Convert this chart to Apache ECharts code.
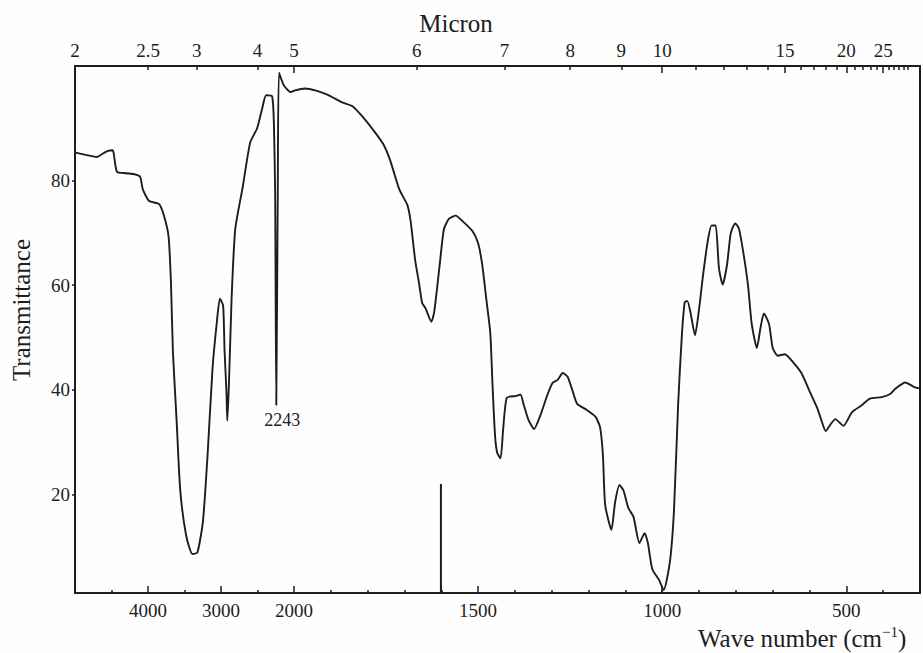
<!DOCTYPE html>
<html>
<head>
<meta charset="utf-8">
<script src="https://cdn.jsdelivr.net/npm/echarts@6/dist/echarts.min.js"></script>
<style>
  html, body { margin: 0; padding: 0; background: #fdfefd; }
  #chart { width: 923px; height: 653px; }
</style>
</head>
<body>
<div id="chart"></div>
<script>
// IR transmission spectrum, wave number (cm^-1) against % transmittance.
const wavenumber = [
  5000, 4818, 4704, 4566, 4484, 4470, 4425, 4300, 4184, 4107, 4071, 3985, 3848, 3784,
  3719, 3686, 3659, 3608, 3559, 3478, 3392, 3323, 3247, 3184, 3116, 3058, 3015, 2971,
  2951, 2925, 2914, 2892, 2855, 2805, 2703, 2600, 2505, 2432, 2382, 2300, 2275, 2258,
  2243, 2222, 2205, 2140, 2045, 2000,
  1971, 1940, 1908, 1871, 1841, 1810, 1783, 1757, 1739, 1714, 1692, 1683, 1671, 1660,
  1652, 1643, 1627, 1619, 1604, 1593, 1579, 1561, 1543, 1515, 1500, 1489, 1478, 1467,
  1461, 1454, 1448, 1439, 1432, 1422, 1398, 1385, 1376, 1363, 1348, 1331, 1312, 1298,
  1284, 1270, 1257, 1244, 1231, 1208, 1182, 1169, 1161, 1155, 1138, 1128, 1116, 1105,
  1092, 1078, 1062, 1048, 1039, 1027, 1009, 996, 979, 968, 957, 947, 939, 932,
  923, 911, 900, 889, 876, 866, 855, 846, 836, 824, 814, 802, 792, 779,
  767, 757, 743, 733, 724, 710, 700, 686, 667, 645, 622, 601, 579, 566,
  556, 543, 530, 508, 485, 459, 436, 404, 381, 367, 340, 315, 303
];
const transmittance = [
  85.4, 84.8, 84.5, 85.6, 85.8, 85.2, 81.7, 81.4, 81.2, 80.7, 78.3, 76.1, 75.5, 73.4,
  69.4, 60.7, 47.4, 34.1, 20.9, 12.2, 8.6, 8.9, 14.9, 27.5, 44.1, 52.8, 57.4, 56.1,
  47.4, 39.5, 34.1, 40.8, 57.4, 70.7, 78.7, 87.3, 90.0, 94.0, 96.3, 96.1, 90.6, 77.3,
  37.1, 78.0, 100.6, 98.2, 96.9, 97.2,
  97.6, 97.2, 96.4, 95.0, 94.2, 91.9, 89.5, 86.9, 83.9, 78.3, 75.3, 72.1, 64.8, 60.2,
  56.6, 55.6, 53.0, 55.0, 64.1, 70.7, 72.7, 73.3, 72.3, 70.3, 68.0, 64.0, 57.5, 50.9,
  41.1, 31.2, 27.9, 26.9, 32.5, 38.5, 38.8, 39.1, 37.1, 34.2, 32.5, 35.1, 39.0, 41.3,
  41.9, 43.2, 42.5, 39.9, 37.3, 36.3, 34.9, 32.9, 27.4, 18.0, 13.2, 18.5, 21.8, 20.7,
  17.4, 15.7, 10.7, 12.6, 10.7, 5.7, 3.7, 1.7, 7.2, 17.1, 36.9, 50.1, 56.7, 57.0,
  54.7, 50.4, 55.4, 62.0, 68.6, 71.4, 71.4, 63.3, 60.1, 63.9, 69.9, 71.8, 70.9, 65.9,
  59.9, 52.6, 48.0, 51.9, 54.6, 52.6, 48.0, 46.5, 46.8, 45.3, 43.2, 39.9, 36.5, 33.8,
  32.1, 33.4, 34.4, 33.1, 35.7, 37.0, 38.3, 38.6, 39.2, 40.2, 41.4, 40.5, 40.3
];

// Band marked with its wave number
const labelledBand = 2243;

// Calibration stroke of the recorder
const calibrationWave = 1601;
const calibrationTop = 22;

// Axis ticks and labels
const waveLabels = [4000, 3000, 2000, 1500, 1000, 500];
const waveMajorTicks = [4000, 3000, 2000, 1500, 1000, 500];
const waveMinorTicks = [4500, 3500, 2500, 1900, 1800, 1700, 1600, 1400, 1300, 1200, 1100,
  1000, 900, 800, 700, 600, 400];
const micronLabels = [2, 2.5, 3, 4, 5, 6, 7, 8, 9, 10, 15, 20, 25];
const micronMajorTicks = [5, 10, 15, 20, 25];
const micronMinorTicks = [2.5, 3, 4, 6, 7, 8, 9, 11, 12, 13, 14, 16, 17, 18, 19, 21, 22, 23,
  24, 26, 27, 28, 29, 30];
const transTicks = [20, 40, 60, 80];

// The recorder changes its abscissa scale at 2000 cm^-1
const SPLIT = 2000;
const WAVE_MAX = 5000;
const WAVE_MIN = 300;
const T_MIN = 1.15;
const T_MAX = 101.9;

const INK = '#1d1d1d';
const FONT = '"Liberation Serif", "Times New Roman", serif';

const pairs = wavenumber.map((w, i) => [w, transmittance[i]]);
const highPairs = pairs.filter(p => p[0] >= SPLIT);
const lowPairs = pairs.filter(p => p[0] <= SPLIT);
const bandPoint = pairs.find(p => p[0] === labelledBand);

const toWave = m => 10000 / m;
const micronText = v => String(Math.round(10000 / v * 10) / 10);
const plainText = v => String(Math.round(v));

function xAxisDef(gridIndex, min, max, position, opts) {
  return Object.assign({
    type: 'value', gridIndex, min, max, inverse: true, position,
    splitLine: { show: false },
    axisLine: { show: false },
    axisTick: { show: false },
    axisLabel: { show: false }
  }, opts);
}
const line = { show: true, lineStyle: { color: INK, width: 2 } };
const labelStyle = { show: true, color: INK, fontSize: 19, fontFamily: FONT };
const tick = (values, length) => ({
  show: true, inside: true, length, customValues: values,
  lineStyle: { color: INK, width: 1.5 }
});

const xAxes = [];
[[0, SPLIT, WAVE_MAX], [1, WAVE_MIN, SPLIT]].forEach(([g, min, max]) => {
  const keepWave = v => (g === 0 ? v >= SPLIT : v < SPLIT);
  // wave number scale along the bottom
  xAxes.push(xAxisDef(g, min, max, 'bottom', {
    axisLine: line,
    axisTick: tick(waveMajorTicks.filter(keepWave), 7),
    axisLabel: Object.assign({ customValues: waveLabels.filter(keepWave), margin: 8,
      formatter: plainText }, labelStyle)
  }));
  xAxes.push(xAxisDef(g, min, max, 'bottom', {
    axisTick: tick(waveMinorTicks.filter(keepWave), 3)
  }));
  // micron scale along the top
  const microns = arr => arr.map(toWave).filter(keepWave);
  xAxes.push(xAxisDef(g, min, max, 'top', {
    axisLine: line,
    axisTick: tick(microns(micronMinorTicks), 4),
    axisLabel: Object.assign({ customValues: microns(micronLabels), margin: 6,
      formatter: micronText }, labelStyle)
  }));
  xAxes.push(xAxisDef(g, min, max, 'top', {
    axisTick: tick(microns(micronMajorTicks), 7)
  }));
});

const option = {
  animation: false,
  backgroundColor: '#fdfefd',
  textStyle: { fontFamily: FONT },
  grid: [
    { left: 75, top: 66, width: 219, height: 527 },
    { left: 294, top: 66, width: 626, height: 527 }
  ],
  xAxis: xAxes,
  yAxis: [
    {
      type: 'value', gridIndex: 0, min: T_MIN, max: T_MAX, position: 'left',
      splitLine: { show: false },
      axisLine: line,
      axisTick: { show: true, inside: false, length: 3, customValues: transTicks,
        lineStyle: { color: INK, width: 1.5 } },
      axisLabel: Object.assign({ customValues: transTicks, margin: 5,
        formatter: plainText }, labelStyle)
    },
    {
      type: 'value', gridIndex: 1, min: T_MIN, max: T_MAX, position: 'right',
      splitLine: { show: false },
      axisLine: line,
      axisTick: { show: false },
      axisLabel: { show: false }
    }
  ],
  series: [
    {
      name: 'Transmittance', type: 'line', xAxisIndex: 0, yAxisIndex: 0,
      data: highPairs, showSymbol: false, smooth: 0.2,
      lineStyle: { color: INK, width: 1.9 }
    },
    {
      name: 'Transmittance', type: 'line', xAxisIndex: 4, yAxisIndex: 1,
      data: lowPairs, showSymbol: false, smooth: 0.2,
      lineStyle: { color: INK, width: 1.9 }
    },
    {
      name: 'Calibration', type: 'line', xAxisIndex: 4, yAxisIndex: 1,
      data: [[calibrationWave, T_MIN], [calibrationWave, calibrationTop]],
      showSymbol: false, lineStyle: { color: INK, width: 2 }
    },
    {
      name: 'Band', type: 'scatter', xAxisIndex: 0, yAxisIndex: 0,
      data: [bandPoint], symbolSize: 0, itemStyle: { color: INK },
      label: {
        show: true, position: 'bottom', distance: 6, offset: [6, 0],
        color: INK, fontSize: 18, fontFamily: FONT, opacity: 1,
        formatter: p => String(p.value[0])
      }
    }
  ],
  graphic: [
    {
      type: 'text', x: 456, y: 23,
      style: { text: 'Micron', font: '25px ' + FONT, fill: INK, align: 'center', verticalAlign: 'middle' }
    },
    {
      type: 'text', x: 21, y: 310, rotation: Math.PI / 2,
      style: { text: 'Transmittance', font: '25px ' + FONT, fill: INK, align: 'center', verticalAlign: 'middle' }
    },
    {
      type: 'text', x: 698, y: 638,
      style: {
        text: '{t|Wave number (cm}{s|−1}{t|)}',
        fill: INK, align: 'left', verticalAlign: 'middle',
        rich: {
          t: { fontSize: 25, fontFamily: FONT, fill: INK },
          s: { fontSize: 15, fontFamily: FONT, fill: INK, padding: [0, 0, 12, 0] }
        }
      }
    }
  ]
};

const chart = echarts.init(document.getElementById('chart'), null, { renderer: 'svg' });
chart.setOption(option);
</script>
</body>
</html>
